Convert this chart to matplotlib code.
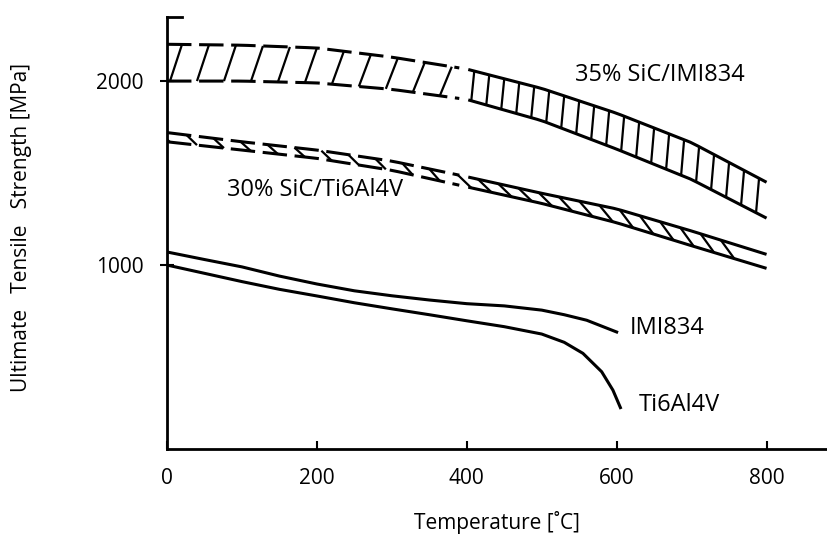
import numpy as np
import matplotlib
matplotlib.use('Agg')
import matplotlib.pyplot as plt
from matplotlib.collections import LineCollection

plt.rcParams['font.family'] = ['Open Sans', 'DejaVu Sans']

# band data (temperature in C, strength in MPa)
band_t = [0, 100, 200, 300, 400, 500, 600, 700, 800]
sic35_hi = [2200, 2195, 2180, 2130, 2065, 1960, 1825, 1665, 1450]
sic35_lo = [2000, 2000, 1990, 1955, 1900, 1785, 1630, 1465, 1255]
sic30_hi = [1720, 1670, 1625, 1565, 1480, 1390, 1305, 1185, 1058]
sic30_lo = [1670, 1625, 1580, 1515, 1425, 1335, 1230, 1105, 982]

imi_t = [0, 50, 100, 150, 200, 250, 300, 350, 400, 450, 500, 530, 560, 600]
imi_s = [1071, 1030, 990, 940, 897, 860, 833, 810, 790, 778, 755, 730, 700, 636]
ti_t = [0, 50, 100, 150, 200, 250, 300, 350, 400, 450, 500, 530, 555, 580, 595, 605]
ti_s = [1000, 955, 910, 868, 832, 795, 762, 730, 697, 665, 625, 580, 520, 420, 320, 225]

xticks = [0, 200, 400, 600, 800]
yticks = [1000, 2000]

fig = plt.figure(figsize=(8.28, 5.38), dpi=100)
ax = fig.add_axes([0.2017, 0.1654, 0.7983, 0.8029])
ax.set_xlim(0, 882)
ax.set_ylim(0, 2348)

lw = 2.2
dash = (0, (8, 2.5))


def band(hi, lo, split, step_d, slant_d, step_s, slant_s):
    t = np.array(band_t, dtype=float)
    hi = np.array(hi, dtype=float)
    lo = np.array(lo, dtype=float)
    # dashed first part, solid second part
    ti = np.linspace(0, split, 30)
    ax.plot(ti, np.interp(ti, t, hi), color='k', lw=lw, ls=dash)
    ax.plot(ti, np.interp(ti, t, lo), color='k', lw=lw, ls=dash)
    ts = np.linspace(split + 12, 800, 40)
    ax.plot(ts, np.interp(ts, t, hi), color='k', lw=lw, solid_capstyle='butt')
    ax.plot(ts, np.interp(ts, t, lo), color='k', lw=lw, solid_capstyle='butt')
    segs = []
    for x0 in np.arange(4, split - abs(slant_d), step_d):
        x1 = x0 + slant_d
        segs.append([(x0, np.interp(x0, t, lo)), (x1, np.interp(x1, t, hi))])
    for x0 in np.arange(split + 16, 800 - abs(slant_s), step_s):
        x1 = x0 + slant_s
        segs.append([(x0, np.interp(x0, t, lo)), (x1, np.interp(x1, t, hi))])
    ax.add_collection(LineCollection(segs, colors='k', linewidths=1.6))


band(sic35_hi, sic35_lo, 390, 36, 16, 20, 4)
band(sic30_hi, sic30_lo, 390, 36, -14, 27, -18)

ax.plot(imi_t, imi_s, color='k', lw=lw)
ax.plot(ti_t, ti_s, color='k', lw=lw)

fs = 15
afs = 17
ax.text(545, 2033, '35% SiC/IMI834', fontsize=afs, va='center')
ax.text(80, 1408, '30% SiC/Ti6Al4V', fontsize=afs, va='center')
ax.text(618, 658, 'IMI834', fontsize=afs, va='center')
ax.text(630, 239, 'Ti6Al4V', fontsize=afs, va='center')

ax.spines['right'].set_visible(False)
ax.spines['top'].set_bounds(0, 20)
for s in ['left', 'bottom', 'top']:
    ax.spines[s].set_linewidth(2)
ax.set_xticks(xticks)
ax.set_yticks(yticks)
ax.tick_params(axis='x', direction='in', length=6, width=1.5, pad=14, labelsize=fs)
ax.tick_params(axis='y', direction='inout', length=10, width=1.5, pad=12, labelsize=fs)

fig.text(22 / 828, 1 - 228 / 538, 'Ultimate   Tensile   Strength [MPa]',
         rotation=90, fontsize=fs, ha='center', va='center')
fig.text(497 / 828, 1 - 522 / 538, 'Temperature [˚C]', fontsize=fs,
         ha='center', va='center')

fig.savefig('out.png', dpi=100)
